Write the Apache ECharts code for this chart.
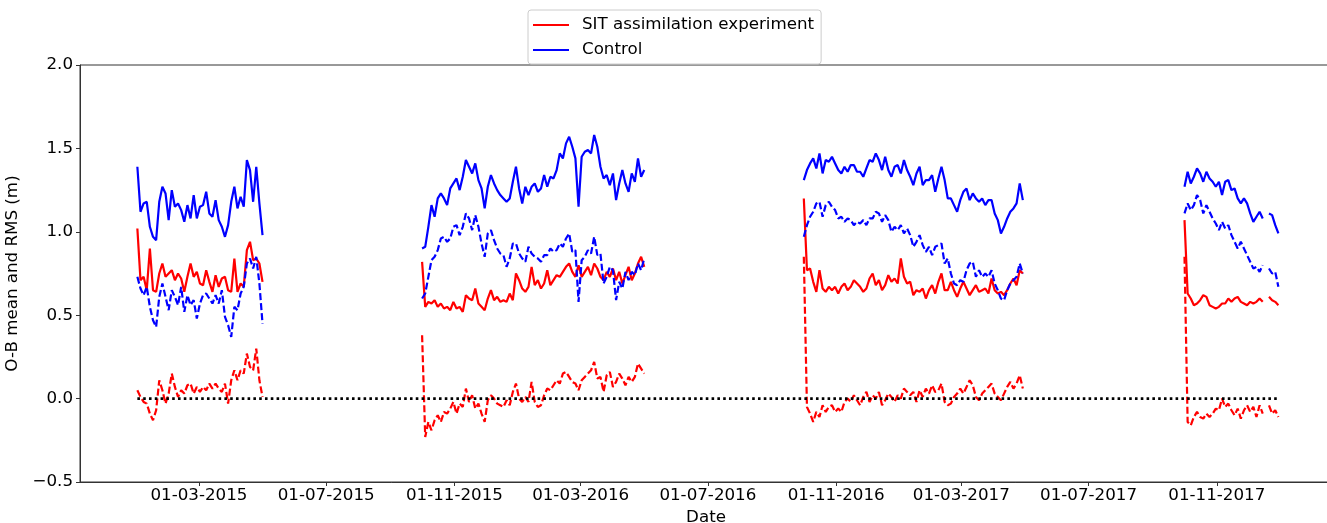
<!DOCTYPE html>
<html>
<head>
<meta charset="utf-8">
<script src="https://cdn.jsdelivr.net/npm/echarts@6/dist/echarts.min.js"></script>
<style>
html, body { margin: 0; padding: 0; background: #fff; }
#main { width: 1327px; height: 523px; }
</style>
</head>
<body>
<div id="main"></div>
<script>
// first day of each assimilation period, samples every 3 days
var periodStarts = ['2015-01-01', '2015-10-01', '2016-10-01', '2017-10-01'];
var stepDays = 3;

// SIT assimilation experiment, RMS (solid red)
var expRms1 = [1.02,0.71,0.73,0.65,0.90,0.65,0.64,0.75,0.81,0.73,0.75,0.77,0.71,0.75,0.72,0.64,0.73,0.81,0.73,0.76,0.69,0.68,0.77,0.70,0.64,0.74,0.67,0.72,0.73,0.65,0.64,0.84,0.64,0.69,0.67,0.89,0.94,0.83,0.84,0.81,0.70];
var expRms2 = [0.82,0.55,0.58,0.57,0.59,0.55,0.57,0.54,0.55,0.53,0.58,0.54,0.55,0.52,0.62,0.60,0.59,0.66,0.57,0.55,0.53,0.60,0.65,0.59,0.61,0.58,0.59,0.58,0.63,0.59,0.75,0.71,0.66,0.64,0.67,0.79,
  0.68,0.71,0.66,0.69,0.77,0.68,0.71,0.74,0.73,0.76,0.79,0.81,0.76,0.73,0.80,0.73,0.76,0.79,0.74,0.81,0.78,0.73,0.71,0.76,0.73,0.78,0.71,0.76,0.69,0.74,0.79,0.71,0.75,0.81,0.85,0.79];
var expRms3 = [1.20,0.77,0.78,0.70,0.64,0.77,0.66,0.64,0.67,0.65,0.67,0.63,0.67,0.69,0.65,0.67,0.71,0.69,0.67,0.64,0.66,0.72,0.75,0.68,0.71,0.65,0.68,0.74,0.70,0.72,0.69,0.84,0.73,0.69,0.70,0.62,
  0.65,0.64,0.66,0.60,0.65,0.68,0.63,0.70,0.75,0.65,0.65,0.70,0.65,0.61,0.66,0.70,0.66,0.62,0.65,0.68,0.64,0.65,0.66,0.63,0.72,0.65,0.63,0.64,0.62,0.65,0.69,0.72,0.68,0.77,0.75];
var expRms4 = [1.07,0.63,0.60,0.56,0.57,0.59,0.62,0.61,0.56,0.55,0.54,0.55,0.57,0.57,0.60,0.58,0.60,0.61,0.58,0.57,0.56,0.58,0.57,0.58,0.60,0.58,null,0.61,0.59,0.58,0.56];

// SIT assimilation experiment, mean (dashed red)
var expMean1 = [0.05,0.01,-0.02,-0.03,-0.09,-0.13,-0.07,0.11,0.05,-0.03,0.03,0.15,0.07,0.01,0.05,0.03,0.08,0.09,0.03,0.07,0.04,0.07,0.05,0.09,0.06,0.09,0.06,0.04,0.09,-0.03,0.11,0.17,0.11,0.17,0.15,0.27,0.19,0.17,0.30,0.11,0.01];
var expMean2 = [0.38,-0.23,-0.14,-0.19,-0.13,-0.10,-0.14,-0.08,-0.09,-0.06,-0.02,-0.09,-0.03,-0.05,0.06,-0.02,0.02,-0.06,-0.03,-0.09,-0.14,-0.01,0.02,0.00,-0.03,-0.04,-0.05,-0.01,-0.04,0.04,0.09,0.00,-0.02,0.01,-0.02,0.10,
  -0.02,-0.05,-0.04,0.02,0.06,0.05,0.08,0.11,0.09,0.15,0.16,0.13,0.10,0.09,0.05,0.11,0.13,0.15,0.17,0.22,0.12,0.13,0.04,0.14,0.16,0.07,0.10,0.15,0.12,0.08,0.13,0.10,0.13,0.21,0.18,0.15];
var expMean3 = [0.85,-0.05,-0.09,-0.14,-0.08,-0.11,-0.04,-0.08,-0.05,-0.04,-0.08,-0.06,-0.08,-0.02,0.00,-0.02,0.02,-0.01,-0.04,0.01,0.04,-0.02,0.02,0.00,0.04,-0.04,-0.01,0.03,0.01,-0.02,0.02,0.00,0.06,0.04,0.02,0.04,
  -0.02,0.05,0.01,0.06,0.03,0.08,0.04,0.05,0.09,-0.02,-0.04,-0.03,0.01,0.03,0.06,0.03,0.07,0.11,0.08,0.01,-0.01,0.03,0.05,0.07,0.09,0.03,0.01,-0.01,0.03,0.07,0.10,0.06,0.09,0.14,0.06];
var expMean4 = [0.85,-0.14,-0.16,-0.11,-0.08,-0.11,-0.12,-0.09,-0.11,-0.09,-0.06,-0.07,0.00,-0.05,-0.03,-0.07,-0.10,-0.06,-0.12,-0.07,-0.04,-0.08,-0.05,-0.11,-0.04,-0.09,null,-0.04,-0.09,-0.07,-0.11];

// Control, RMS (solid blue)
var ctlRms1 = [1.39,1.12,1.17,1.18,1.03,0.97,0.95,1.18,1.27,1.23,1.07,1.25,1.15,1.17,1.13,1.06,1.16,1.08,1.22,1.08,1.15,1.16,1.24,1.11,1.09,1.19,1.07,1.03,0.97,1.04,1.18,1.27,1.14,1.21,1.15,1.43,1.37,1.18,1.39,1.17,0.98];
var ctlRms2 = [0.90,0.91,1.03,1.16,1.09,1.20,1.23,1.20,1.16,1.26,1.29,1.32,1.25,1.33,1.43,1.39,1.35,1.41,1.31,1.26,1.14,1.27,1.34,1.29,1.25,1.22,1.20,1.18,1.20,1.30,1.39,1.26,1.17,1.27,1.22,1.27,
  1.29,1.24,1.26,1.34,1.27,1.33,1.32,1.37,1.47,1.44,1.53,1.57,1.51,1.44,1.15,1.45,1.48,1.49,1.47,1.58,1.51,1.39,1.32,1.34,1.28,1.35,1.19,1.29,1.37,1.29,1.24,1.35,1.30,1.44,1.33,1.37];
var ctlRms3 = [1.31,1.37,1.41,1.44,1.38,1.47,1.35,1.43,1.42,1.45,1.41,1.37,1.35,1.39,1.36,1.40,1.40,1.36,1.36,1.33,1.38,1.43,1.42,1.47,1.43,1.37,1.45,1.37,1.33,1.39,1.40,1.35,1.43,1.37,1.33,1.28,
  1.35,1.39,1.28,1.31,1.31,1.34,1.24,1.32,1.39,1.31,1.20,1.20,1.16,1.12,1.19,1.24,1.26,1.19,1.23,1.20,1.18,1.20,1.16,1.19,1.19,1.11,1.07,0.99,1.03,1.08,1.12,1.14,1.17,1.29,1.19];
var ctlRms4 = [1.27,1.36,1.29,1.33,1.38,1.35,1.30,1.36,1.32,1.30,1.27,1.30,1.22,1.30,1.31,1.25,1.26,1.20,1.17,1.20,1.17,1.11,1.06,1.09,1.12,1.08,null,1.11,1.10,1.04,0.99];

// Control, mean (dashed blue)
var ctlMean1 = [0.73,0.66,0.62,0.67,0.55,0.47,0.43,0.61,0.69,0.61,0.53,0.65,0.61,0.56,0.67,0.52,0.62,0.56,0.59,0.48,0.57,0.62,0.63,0.60,0.57,0.62,0.57,0.65,0.49,0.44,0.37,0.55,0.53,0.63,0.67,0.81,0.84,0.78,0.85,0.69,0.45];
var ctlMean2 = [0.60,0.63,0.73,0.83,0.85,0.89,0.96,0.97,0.94,0.96,1.03,1.04,0.98,1.03,1.11,1.08,1.01,1.10,1.03,0.93,0.85,0.99,1.01,0.95,0.90,0.87,0.86,0.79,0.84,0.93,0.93,0.87,0.84,0.82,0.91,0.87,
  0.85,0.84,0.82,0.86,0.86,0.90,0.88,0.89,0.93,0.91,0.96,0.99,0.88,0.89,0.58,0.83,0.85,0.89,0.87,0.97,0.86,0.87,0.69,0.73,0.79,0.77,0.59,0.70,0.66,0.76,0.71,0.76,0.74,0.81,0.77,0.84];
var ctlMean3 = [0.97,1.04,1.09,1.12,1.17,1.18,1.09,1.16,1.18,1.15,1.13,1.08,1.09,1.06,1.08,1.07,1.04,1.06,1.05,1.07,1.04,1.08,1.08,1.12,1.11,1.06,1.10,1.07,1.00,1.03,1.01,1.04,0.99,1.02,0.98,0.91,
  0.94,0.98,0.92,0.88,0.91,0.86,0.91,0.92,0.93,0.81,0.84,0.75,0.69,0.68,0.71,0.70,0.77,0.81,0.82,0.73,0.77,0.73,0.75,0.73,0.77,0.69,0.65,0.60,0.59,0.65,0.69,0.71,0.73,0.81,0.75];
var ctlMean4 = [1.11,1.17,1.13,1.16,1.22,1.19,1.11,1.16,1.12,1.08,1.05,1.01,1.06,1.02,1.04,0.98,0.94,0.90,0.94,0.90,0.86,0.82,0.78,0.79,0.76,0.80,null,0.78,0.75,0.76,0.67];

var zeroSpan = ['2015-01-01', '2017-12-31'];
var tickDates = ['2015-03-01', '2015-07-01', '2015-11-01', '2016-03-01', '2016-07-01',
                 '2016-11-01', '2017-03-01', '2017-07-01', '2017-11-01'];
var yTicks = [-0.5, 0.0, 0.5, 1.0, 1.5, 2.0];

var DAY = 86400000;
var FONT = 'DejaVu Sans';

function toTime(s) {
    var p = s.split('-');
    return Date.UTC(+p[0], +p[1] - 1, +p[2]);
}
function pad(n) { return n < 10 ? '0' + n : '' + n; }

// join the periods into one list, with a null gap between them
function joinPeriods(parts) {
    var out = [];
    parts.forEach(function(vals, k) {
        var t0 = toTime(periodStarts[k]);
        vals.forEach(function(v, i) {
            out.push([t0 + i * stepDays * DAY, v]);
        });
        out.push([t0 + vals.length * stepDays * DAY, null]);
    });
    return out;
}

function lineSeries(name, color, dashed, data) {
    return {
        name: name,
        type: 'line',
        data: data,
        symbol: 'none',
        connectNulls: false,
        lineStyle: { color: color, width: 2.2, type: dashed ? [7, 3] : 'solid' },
        itemStyle: { color: color },
        emphasis: { disabled: true }
    };
}

var chart = echarts.init(document.getElementById('main'));

var tickTimes = tickDates.map(toTime);

var option = {
    animation: false,
    textStyle: { fontFamily: FONT },
    grid: {
        left: 80, top: 65, width: 1252, height: 417,
        outerBoundsMode: 'none',
        containLabel: false,
        show: true, borderColor: '#333', borderWidth: 1
    },
    legend: {
        data: ['SIT assimilation experiment', 'Control'],
        orient: 'vertical',
        left: 528, top: 10,
        padding: [5, 7, 4, 5],
        icon: 'rect',
        itemWidth: 36, itemHeight: 2.2, itemGap: 5,
        backgroundColor: 'rgba(255,255,255,0.9)',
        borderColor: '#cccccc', borderWidth: 1, borderRadius: 3,
        selectedMode: false,
        textStyle: { fontFamily: FONT, fontSize: 16.7, color: '#000', lineHeight: 20, padding: [0, 0, 0, 8] }
    },
    xAxis: {
        // dates as UTC timestamps on a plain value axis
        type: 'value',
        min: Date.UTC(2014, 10, 7),
        max: Date.UTC(2018, 1, 19, 10),
        name: 'Date',
        nameLocation: 'middle',
        nameGap: 22,
        nameTextStyle: { fontFamily: FONT, fontSize: 16.7, color: '#000' },
        splitLine: { show: false },
        axisLine: { onZero: false, lineStyle: { color: '#333', width: 1 } },
        axisTick: {
            show: true, length: 4, lineStyle: { color: '#333' },
            customValues: tickTimes
        },
        axisLabel: {
            customValues: tickTimes,
            margin: 5,
            fontFamily: FONT, fontSize: 16.7, color: '#000',
            formatter: function(v) {
                var d = new Date(v);
                return pad(d.getUTCDate()) + '-' + pad(d.getUTCMonth() + 1) + '-' + d.getUTCFullYear();
            }
        }
    },
    yAxis: {
        type: 'value',
        min: yTicks[0],
        max: yTicks[yTicks.length - 1],
        interval: 0.5,
        name: 'O-B mean and RMS (m)',
        nameLocation: 'middle',
        nameGap: 52,
        nameRotate: 90,
        nameTextStyle: { fontFamily: FONT, fontSize: 16.7, color: '#000' },
        splitLine: { show: false },
        axisLine: { show: true, onZero: false, lineStyle: { color: '#333', width: 1 } },
        axisTick: { show: true, length: 4, lineStyle: { color: '#333' } },
        axisLabel: {
            margin: 7,
            fontFamily: FONT, fontSize: 16.7, color: '#000',
            formatter: function(v) { return v.toFixed(1).replace('-', '\u2212'); }
        }
    },
    series: [
        lineSeries('SIT assimilation experiment', '#ff0000', false, joinPeriods([expRms1, expRms2, expRms3, expRms4])),
        lineSeries('SIT assimilation experiment', '#ff0000', true, joinPeriods([expMean1, expMean2, expMean3, expMean4])),
        lineSeries('Control', '#0000ff', false, joinPeriods([ctlRms1, ctlRms2, ctlRms3, ctlRms4])),
        lineSeries('Control', '#0000ff', true, joinPeriods([ctlMean1, ctlMean2, ctlMean3, ctlMean4])),
        {
            name: 'zero',
            type: 'line',
            data: zeroSpan.map(function(s) { return [toTime(s), 0]; }),
            symbol: 'none',
            lineStyle: { color: '#000', width: 2.6, type: [2.6, 3.2] },
            emphasis: { disabled: true },
            z: 5
        }
    ]
};

chart.setOption(option);
</script>
</body>
</html>
